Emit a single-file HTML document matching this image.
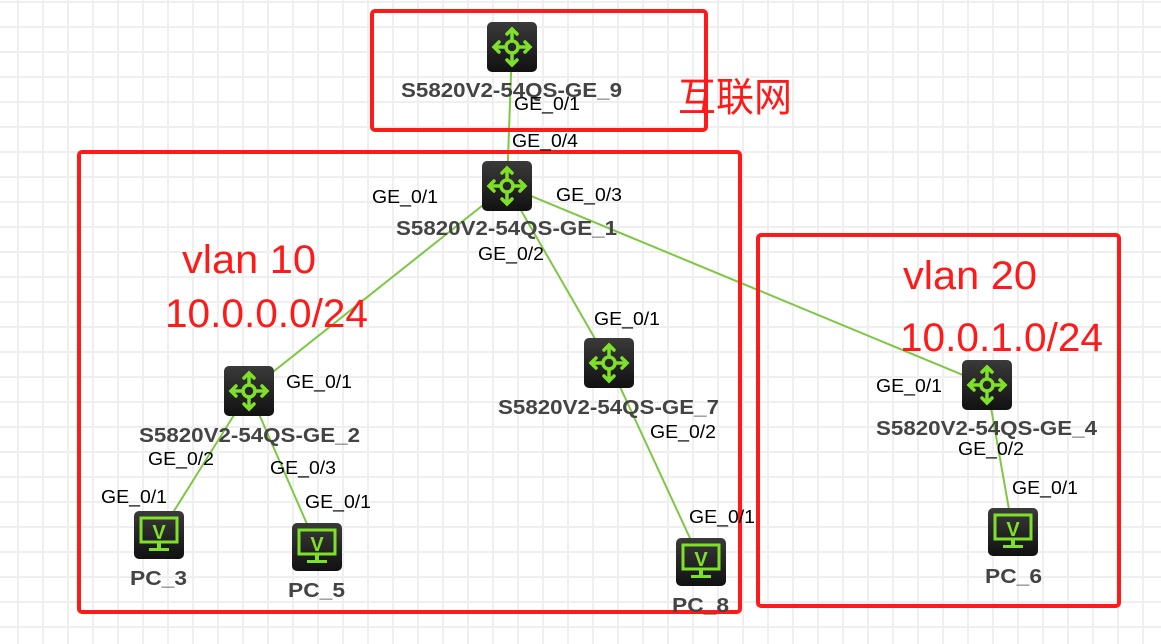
<!DOCTYPE html>
<html><head><meta charset="utf-8"><style>
html,body{margin:0;padding:0;width:1161px;height:644px;overflow:hidden;background:#fff}
svg{display:block}
.p{font-family:"Liberation Sans",sans-serif;font-size:18px;fill:#000}
.n{font-family:"Liberation Sans",sans-serif;font-size:20px;font-weight:bold;fill:#444}
.r{font-family:"Liberation Sans","Noto Sans CJK SC",sans-serif;font-size:40px;fill:#ff1a1a}
</style></head><body>
<svg width="1161" height="644" viewBox="0 0 1161 644" xmlns="http://www.w3.org/2000/svg">
<defs>
<pattern id="g" x="17" y="1" width="25" height="25" patternUnits="userSpaceOnUse">
<rect x="0" y="0" width="2" height="25" fill="#efefef"/><rect x="0" y="0" width="25" height="2" fill="#efefef"/>
</pattern>
<linearGradient id="dk" x1="0" y1="0" x2="0" y2="1"><stop offset="0" stop-color="#3a3a3a"/><stop offset="1" stop-color="#111"/></linearGradient>
<g id="sw">
<rect x="-25" y="-25" width="50" height="50" rx="5" fill="url(#dk)"/>
<g stroke="#7fe028" stroke-width="3.5" fill="none" stroke-linecap="round">
<circle cx="0" cy="0" r="6"/>
<line x1="0" y1="-6" x2="0" y2="-17"/><line x1="0" y1="6" x2="0" y2="17"/>
<line x1="-6" y1="0" x2="-17" y2="0"/><line x1="6" y1="0" x2="17" y2="0"/>
<polyline points="-5,-13 0,-18 5,-13"/><polyline points="-5,13 0,18 5,13"/>
<polyline points="-13,-5 -18,0 -13,5"/><polyline points="13,-5 18,0 13,5"/>
</g></g>
<g id="pc">
<rect x="-25" y="-24" width="50" height="48" rx="5" fill="url(#dk)"/>
<rect x="-18" y="-17" width="36" height="24" fill="none" stroke="#7fe028" stroke-width="3"/>
<text x="0" y="4" text-anchor="middle" font-family="Liberation Sans,sans-serif" font-weight="bold" font-size="20" fill="#7fe028">V</text>
<rect x="-2" y="8" width="4" height="5" fill="#7fe028"/><rect x="-10" y="13" width="20" height="3" fill="#7fe028"/>
</g>
</defs>
<rect width="1161" height="644" fill="url(#g)"/>
<g stroke="#7dc843" stroke-width="2">
<line x1="512" y1="47" x2="507" y2="186"/>
<line x1="507" y1="186" x2="249" y2="391"/>
<line x1="507" y1="186" x2="609" y2="363"/>
<line x1="507" y1="186" x2="987" y2="385"/>
<line x1="249" y1="391" x2="159" y2="535"/>
<line x1="249" y1="391" x2="317" y2="547"/>
<line x1="609" y1="363" x2="701" y2="562"/>
<line x1="987" y1="385" x2="1013" y2="532"/>
</g>
<g fill="none" stroke="#ff1a1a" stroke-width="4">
<rect x="372" y="11" width="334" height="119" rx="3"/>
<rect x="79" y="152" width="661" height="460" rx="3"/>
<rect x="758" y="235" width="361" height="371" rx="3"/>
</g>
<use href="#sw" x="512" y="47"/><use href="#sw" x="507" y="186"/>
<use href="#sw" x="249" y="391"/><use href="#sw" x="609" y="363"/>
<use href="#sw" x="987" y="385"/>
<use href="#pc" x="159" y="535"/><use href="#pc" x="317" y="547"/>
<use href="#pc" x="701" y="562"/><use href="#pc" x="1013" y="532"/>
<text class="n" x="401" y="97" textLength="221" lengthAdjust="spacingAndGlyphs">S5820V2-54QS-GE_9</text>
<text class="n" x="396" y="235" textLength="221" lengthAdjust="spacingAndGlyphs">S5820V2-54QS-GE_1</text>
<text class="n" x="139" y="442" textLength="221" lengthAdjust="spacingAndGlyphs">S5820V2-54QS-GE_2</text>
<text class="n" x="498" y="414" textLength="221" lengthAdjust="spacingAndGlyphs">S5820V2-54QS-GE_7</text>
<text class="n" x="876" y="435" textLength="221" lengthAdjust="spacingAndGlyphs">S5820V2-54QS-GE_4</text>
<text class="n" x="130" y="585" textLength="57" lengthAdjust="spacingAndGlyphs">PC_3</text>
<text class="n" x="288" y="597" textLength="57" lengthAdjust="spacingAndGlyphs">PC_5</text>
<text class="n" x="672" y="612" textLength="57" lengthAdjust="spacingAndGlyphs">PC_8</text>
<text class="n" x="985" y="583" textLength="57" lengthAdjust="spacingAndGlyphs">PC_6</text>
<g class="p">
<text x="514" y="110" textLength="66" lengthAdjust="spacingAndGlyphs">GE_0/1</text>
<text x="512" y="147" textLength="66" lengthAdjust="spacingAndGlyphs">GE_0/4</text>
<text x="372" y="203" textLength="66" lengthAdjust="spacingAndGlyphs">GE_0/1</text>
<text x="556" y="201" textLength="66" lengthAdjust="spacingAndGlyphs">GE_0/3</text>
<text x="478" y="260" textLength="66" lengthAdjust="spacingAndGlyphs">GE_0/2</text>
<text x="286" y="388" textLength="66" lengthAdjust="spacingAndGlyphs">GE_0/1</text>
<text x="148" y="465" textLength="66" lengthAdjust="spacingAndGlyphs">GE_0/2</text>
<text x="270" y="474" textLength="66" lengthAdjust="spacingAndGlyphs">GE_0/3</text>
<text x="101" y="503" textLength="66" lengthAdjust="spacingAndGlyphs">GE_0/1</text>
<text x="305" y="508" textLength="66" lengthAdjust="spacingAndGlyphs">GE_0/1</text>
<text x="594" y="325" textLength="66" lengthAdjust="spacingAndGlyphs">GE_0/1</text>
<text x="650" y="438" textLength="66" lengthAdjust="spacingAndGlyphs">GE_0/2</text>
<text x="689" y="523" textLength="66" lengthAdjust="spacingAndGlyphs">GE_0/1</text>
<text x="876" y="392" textLength="66" lengthAdjust="spacingAndGlyphs">GE_0/1</text>
<text x="958" y="455" textLength="66" lengthAdjust="spacingAndGlyphs">GE_0/2</text>
<text x="1012" y="494" textLength="66" lengthAdjust="spacingAndGlyphs">GE_0/1</text>
</g>
<text class="r" x="678" y="111" textLength="114" lengthAdjust="spacingAndGlyphs">互联网</text>
<text class="r" x="182" y="273" textLength="134" lengthAdjust="spacingAndGlyphs">vlan 10</text>
<text class="r" x="165" y="327" textLength="203" lengthAdjust="spacingAndGlyphs">10.0.0.0/24</text>
<text class="r" x="903" y="289" textLength="134" lengthAdjust="spacingAndGlyphs">vlan 20</text>
<text class="r" x="900" y="351" textLength="203" lengthAdjust="spacingAndGlyphs">10.0.1.0/24</text>
</svg>
</body></html>
